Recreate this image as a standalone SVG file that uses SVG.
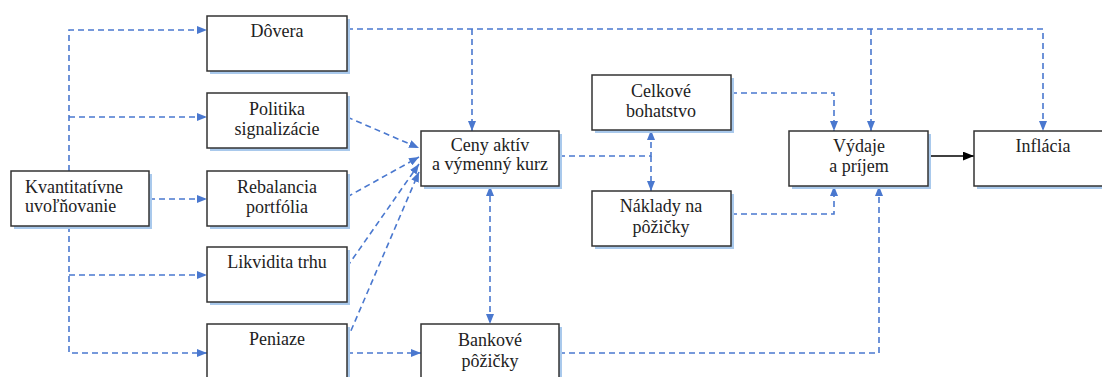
<svg xmlns="http://www.w3.org/2000/svg" width="1102" height="377" viewBox="0 0 1102 377">
<style>
.sh{fill:#a9c9ec}
.bx{fill:#fff;stroke:#333;stroke-width:1.5}
text{font-family:"Liberation Serif",serif;font-size:18px;fill:#222;text-anchor:middle}
.l{text-anchor:start}
.c{fill:none;stroke:#4a78cf;stroke-width:1.6;stroke-dasharray:6 4}
.s{fill:none;stroke:#000;stroke-width:1.5}
</style>
<defs>
<marker id="a" viewBox="0 0 10 8" refX="10" refY="4" markerWidth="10" markerHeight="8" markerUnits="userSpaceOnUse" orient="auto-start-reverse"><path d="M0,0L10,4L0,8z" fill="#4a78cf"/></marker>
<marker id="k" viewBox="0 0 10 8" refX="10" refY="4" markerWidth="11" markerHeight="9" markerUnits="userSpaceOnUse" orient="auto"><path d="M0,0L10,4L0,8z" fill="#000"/></marker>
</defs>
<g id="connectors">
<path class="c" d="M69,171V30H207" marker-end="url(#a)"/>
<path class="c" d="M69,117H207" marker-end="url(#a)"/>
<path class="c" d="M149,199H207" marker-end="url(#a)"/>
<path class="c" d="M69,226V353H207" marker-end="url(#a)"/>
<path class="c" d="M69,275H207" marker-end="url(#a)"/>
<path class="c" d="M347,29H1043V131" marker-end="url(#a)"/>
<path class="c" d="M472,29V131" marker-end="url(#a)"/>
<path class="c" d="M871,29V131" marker-end="url(#a)"/>
<path class="c" d="M347,117L419,148" marker-end="url(#a)"/>
<path class="c" d="M347,197L419,157" marker-end="url(#a)"/>
<path class="c" d="M347,267L419,164" marker-end="url(#a)"/>
<path class="c" d="M347,340L419,172" marker-end="url(#a)"/>
<path class="c" d="M490,186V324" marker-start="url(#a)" marker-end="url(#a)"/>
<path class="c" d="M559,156H651V130" marker-end="url(#a)"/>
<path class="c" d="M651,156V191" marker-end="url(#a)"/>
<path class="c" d="M731,93H834V131" marker-end="url(#a)"/>
<path class="c" d="M731,214H834V186" marker-end="url(#a)"/>
<path class="c" d="M347,353H421" marker-end="url(#a)"/>
<path class="c" d="M559,353H879V186" marker-end="url(#a)"/>
<path class="s" d="M928,156H974" marker-end="url(#k)"/>
</g>
<g id="kvantitativne"><rect class="sh" x="14" y="174" width="138" height="55"/><rect class="bx" x="11" y="171" width="138" height="55"/><text class="l" x="25" y="193">Kvantitatívne</text><text class="l" x="25" y="212">uvoľňovanie</text></g>
<g id="dovera"><rect class="sh" x="210" y="19" width="140" height="55"/><rect class="bx" x="207" y="16" width="140" height="55"/><text x="277" y="37">Dôvera</text></g>
<g id="politika"><rect class="sh" x="210" y="96" width="140" height="55"/><rect class="bx" x="207" y="93" width="140" height="55"/><text x="277" y="115">Politika</text><text x="277" y="135">signalizácie</text></g>
<g id="rebalancia"><rect class="sh" x="210" y="174" width="140" height="55"/><rect class="bx" x="207" y="171" width="140" height="55"/><text x="277" y="193">Rebalancia</text><text x="277" y="213">portfólia</text></g>
<g id="likvidita"><rect class="sh" x="210" y="250" width="140" height="55"/><rect class="bx" x="207" y="247" width="140" height="55"/><text x="277" y="268">Likvidita trhu</text></g>
<g id="peniaze"><rect class="sh" x="210" y="327" width="140" height="55"/><rect class="bx" x="207" y="324" width="140" height="55"/><text x="277" y="345">Peniaze</text></g>
<g id="ceny"><rect class="sh" x="424" y="134" width="138" height="55"/><rect class="bx" x="421" y="131" width="138" height="55"/><text x="490" y="151">Ceny aktív</text><text x="490" y="170">a výmenný kurz</text></g>
<g id="bankove"><rect class="sh" x="424" y="327" width="138" height="55"/><rect class="bx" x="421" y="324" width="138" height="55"/><text x="490" y="346">Bankové</text><text x="490" y="367">pôžičky</text></g>
<g id="celkove"><rect class="sh" x="595" y="78" width="139" height="55"/><rect class="bx" x="592" y="75" width="139" height="55"/><text x="661" y="97">Celkové</text><text x="661" y="117">bohatstvo</text></g>
<g id="naklady"><rect class="sh" x="595" y="194" width="139" height="55"/><rect class="bx" x="592" y="191" width="139" height="55"/><text x="661" y="212">Náklady na</text><text x="661" y="233">pôžičky</text></g>
<g id="vydaje"><rect class="sh" x="792" y="134" width="139" height="55"/><rect class="bx" x="789" y="131" width="139" height="55"/><text x="859" y="152">Výdaje</text><text x="859" y="172">a príjem</text></g>
<g id="inflacia"><rect class="sh" x="977" y="134" width="139" height="55"/><rect class="bx" x="974" y="131" width="139" height="55"/><text x="1043" y="152">Inflácia</text></g>
</svg>
